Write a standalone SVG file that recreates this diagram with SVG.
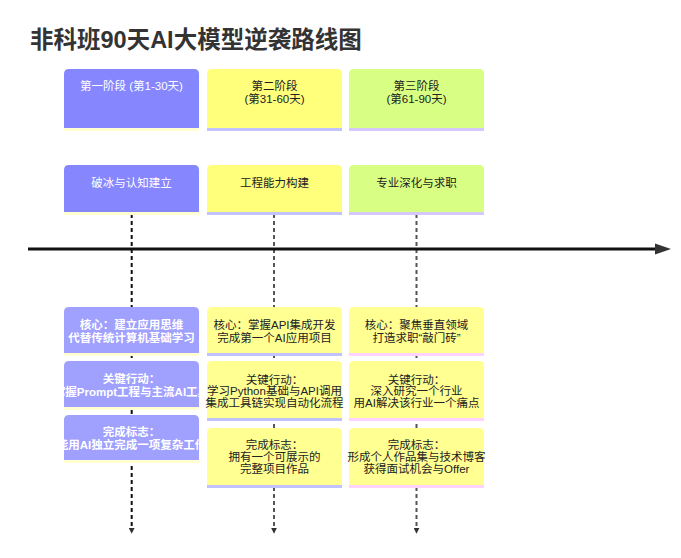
<svg xmlns="http://www.w3.org/2000/svg" width="681" height="558" viewBox="0 0 681 558">
<style>
text{font-family:"Liberation Sans","Noto Sans CJK SC",sans-serif;font-size:11.5px;text-anchor:middle}
.title{font-size:23.5px;font-weight:bold;fill:#333;text-anchor:start}
.w{fill:#ffffff}
.wb{fill:#ffffff;font-weight:bold}
.k{fill:#222222}
.p{fill:#8686ff}
.pl{fill:#a0a0ff}
.y{fill:#ffff7c}
.yl{fill:#ffff92}
.g{fill:#d8ff84}
.ln{stroke-width:3;fill:none}
.lY{stroke:#ffffd2}
.lB{stroke:#c2c2ff}
.lL{stroke:#d6c8ff}
.lP{stroke:#ffd2ff}
.dash{stroke-width:2;stroke-dasharray:4,3;fill:none}
</style>
<defs>
<marker id="ah" viewBox="0 0 10 10" refX="2" refY="5" markerWidth="3" markerHeight="3" orient="auto" markerUnits="strokeWidth">
<path d="M0,0 L10,5 L0,10 Z" fill="#333"/>
</marker>
</defs>
<rect width="681" height="558" fill="#ffffff"/>
<text class="title" x="30" y="48">非科班90天AI大模型逆袭路线图</text>

<g id="connectors">
<line class="dash" x1="131.7" y1="214" x2="131.7" y2="529" stroke="#111" marker-end="url(#ah)"/>
<line class="dash" x1="274" y1="214" x2="274" y2="529" stroke="#555" marker-end="url(#ah)"/>
<line class="dash" x1="416.5" y1="214" x2="416.5" y2="529" stroke="#555" marker-end="url(#ah)"/>
<line x1="28" y1="249" x2="657" y2="249" stroke="#111" stroke-width="3"/>
<polygon points="655,243.5 671,249 655,254.5" fill="#333"/>
</g>

<g id="sec1">
<path class="p" d="M64,128 V74 Q64,69 69,69 H194 Q199,69 199,74 V128 Z"/>
<line class="ln lY" x1="64" y1="129.5" x2="199" y2="129.5"/>
<text class="w" x="131.5" y="90">第一阶段 (第1-30天)</text>
</g>
<g id="sec2">
<path class="y" d="M207,128 V74 Q207,69 212,69 H337 Q342,69 342,74 V128 Z"/>
<line class="ln lB" x1="207" y1="129.5" x2="342" y2="129.5"/>
<text class="k" x="274.5" y="90">第二阶段</text>
<text class="k" x="274.5" y="103">(第31-60天)</text>
</g>
<g id="sec3">
<path class="g" d="M349,128 V74 Q349,69 354,69 H479 Q484,69 484,74 V128 Z"/>
<line class="ln lL" x1="349" y1="129.5" x2="484" y2="129.5"/>
<text class="k" x="416.5" y="90">第三阶段</text>
<text class="k" x="416.5" y="103">(第61-90天)</text>
</g>

<g id="phase1">
<path class="p" d="M64,212 V170 Q64,165 69,165 H194 Q199,165 199,170 V212 Z"/>
<line class="ln lY" x1="64" y1="213.5" x2="199" y2="213.5"/>
<text class="w" x="131.5" y="187">破冰与认知建立</text>
</g>
<g id="phase2">
<path class="y" d="M207,212 V170 Q207,165 212,165 H337 Q342,165 342,170 V212 Z"/>
<line class="ln lB" x1="207" y1="213.5" x2="342" y2="213.5"/>
<text class="k" x="274.5" y="187">工程能力构建</text>
</g>
<g id="phase3">
<path class="g" d="M349,212 V170 Q349,165 354,165 H479 Q484,165 484,170 V212 Z"/>
<line class="ln lL" x1="349" y1="213.5" x2="484" y2="213.5"/>
<text class="k" x="416.5" y="187">专业深化与求职</text>
</g>

<g id="p1-core">
<path class="pl" d="M64,353 V312 Q64,307 69,307 H194 Q199,307 199,312 V353 Z"/>
<line class="ln lY" x1="64" y1="354.5" x2="199" y2="354.5"/>
<text class="wb" x="131.5" y="329">核心：建立应用思维</text>
<text class="wb" x="131.5" y="342">代替传统计算机基础学习</text>
</g>
<g id="p1-action">
<path class="pl" d="M64,407 V366 Q64,361 69,361 H194 Q199,361 199,366 V407 Z"/>
<line class="ln lY" x1="64" y1="408.5" x2="199" y2="408.5"/>
<text class="wb" x="131.5" y="383">关键行动：</text>
<text class="wb" x="131.5" y="396">掌握Prompt工程与主流AI工具</text>
</g>
<g id="p1-done">
<path class="pl" d="M64,460 V420 Q64,415 69,415 H194 Q199,415 199,420 V460 Z"/>
<line class="ln lY" x1="64" y1="461.5" x2="199" y2="461.5"/>
<text class="wb" x="131.5" y="436">完成标志：</text>
<text class="wb" x="131.5" y="449">能用AI独立完成一项复杂工作</text>
</g>

<g id="p2-core">
<path class="yl" d="M207,353 V312 Q207,307 212,307 H337 Q342,307 342,312 V353 Z"/>
<line class="ln lB" x1="207" y1="354.5" x2="342" y2="354.5"/>
<text class="k" x="274.5" y="329">核心：掌握API集成开发</text>
<text class="k" x="274.5" y="342">完成第一个AI应用项目</text>
</g>
<g id="p2-action">
<path class="yl" d="M207,418 V366 Q207,361 212,361 H337 Q342,361 342,366 V418 Z"/>
<line class="ln lB" x1="207" y1="419.5" x2="342" y2="419.5"/>
<text class="k" x="274.5" y="383.5">关键行动：</text>
<text class="k" x="274.5" y="395">学习Python基础与API调用</text>
<text class="k" x="274.5" y="406.5">集成工具链实现自动化流程</text>
</g>
<g id="p2-done">
<path class="yl" d="M207,485 V433 Q207,428 212,428 H337 Q342,428 342,433 V485 Z"/>
<line class="ln lB" x1="207" y1="486.5" x2="342" y2="486.5"/>
<text class="k" x="274.5" y="449">完成标志：</text>
<text class="k" x="274.5" y="461">拥有一个可展示的</text>
<text class="k" x="274.5" y="473">完整项目作品</text>
</g>

<g id="p3-core">
<path class="yl" d="M349,353 V312 Q349,307 354,307 H479 Q484,307 484,312 V353 Z"/>
<line class="ln lP" x1="349" y1="354.5" x2="484" y2="354.5"/>
<text class="k" x="416.5" y="329">核心：聚焦垂直领域</text>
<text class="k" x="416.5" y="342">打造求职“敲门砖”</text>
</g>
<g id="p3-action">
<path class="yl" d="M349,418 V366 Q349,361 354,361 H479 Q484,361 484,366 V418 Z"/>
<line class="ln lP" x1="349" y1="419.5" x2="484" y2="419.5"/>
<text class="k" x="416.5" y="383.5">关键行动：</text>
<text class="k" x="416.5" y="395">深入研究一个行业</text>
<text class="k" x="416.5" y="406.5">用AI解决该行业一个痛点</text>
</g>
<g id="p3-done">
<path class="yl" d="M349,485 V433 Q349,428 354,428 H479 Q484,428 484,433 V485 Z"/>
<line class="ln lP" x1="349" y1="486.5" x2="484" y2="486.5"/>
<text class="k" x="416.5" y="449">完成标志：</text>
<text class="k" x="416.5" y="461">形成个人作品集与技术博客</text>
<text class="k" x="416.5" y="473">获得面试机会与Offer</text>
</g>
</svg>
